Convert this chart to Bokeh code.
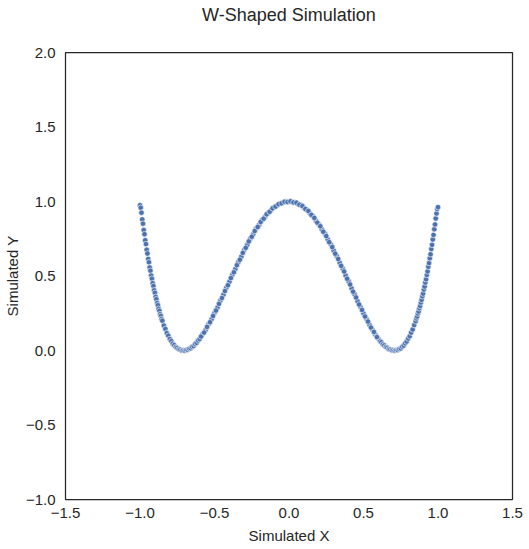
from bokeh.plotting import figure
from bokeh.models import FixedTicker, Range1d, Title
from bokeh.embed import file_html
from bokeh.resources import INLINE

x_vals = [
    -1.000, -0.995, -0.990, -0.985, -0.980, -0.975, -0.970, -0.965, -0.960, -0.955,
    -0.950, -0.945, -0.940, -0.935, -0.930, -0.925, -0.920, -0.915, -0.910, -0.905,
    -0.900, -0.895, -0.890, -0.885, -0.880, -0.875, -0.870, -0.865, -0.860, -0.855,
    -0.850, -0.84, -0.83, -0.82, -0.81, -0.80, -0.79, -0.78, -0.77, -0.76,
    -0.75, -0.74, -0.73, -0.72, -0.71, -0.70, -0.69, -0.68, -0.67, -0.66,
    -0.65, -0.64, -0.63, -0.62, -0.61, -0.60, -0.58, -0.56, -0.54, -0.52,
    -0.50, -0.48, -0.46, -0.44, -0.42, -0.40, -0.38, -0.36, -0.34, -0.32,
    -0.30, -0.28, -0.26, -0.24, -0.22, -0.20, -0.18, -0.16, -0.14, -0.12,
    -0.10, -0.08, -0.06, -0.04, -0.02, 0.00, 0.02, 0.04, 0.06, 0.08,
    0.10, 0.12, 0.14, 0.16, 0.18, 0.20, 0.22, 0.24, 0.26, 0.28,
    0.30, 0.32, 0.34, 0.36, 0.38, 0.40, 0.42, 0.44, 0.46, 0.48,
    0.50, 0.52, 0.54, 0.56, 0.58, 0.60, 0.61, 0.62, 0.63, 0.64,
    0.65, 0.66, 0.67, 0.68, 0.69, 0.70, 0.71, 0.72, 0.73, 0.74,
    0.75, 0.76, 0.77, 0.78, 0.79, 0.80, 0.81, 0.82, 0.83, 0.84,
    0.850, 0.855, 0.860, 0.865, 0.870, 0.875, 0.880, 0.885, 0.890, 0.895,
    0.900, 0.905, 0.910, 0.915, 0.920, 0.925, 0.930, 0.935, 0.940, 0.945,
    0.950, 0.955, 0.960, 0.965, 0.970, 0.975, 0.980, 0.985, 0.990, 0.995,
    1.000,
]

y_vals = [
    0.975, 0.958, 0.925, 0.880, 0.851, 0.808, 0.781, 0.740, 0.714, 0.676,
    0.651, 0.614, 0.592, 0.557, 0.535, 0.503, 0.482, 0.452, 0.433, 0.404,
    0.387, 0.360, 0.344, 0.318, 0.304, 0.280, 0.266, 0.244, 0.232, 0.211,
    0.200, 0.167, 0.145, 0.117, 0.099, 0.077, 0.063, 0.046, 0.036, 0.023,
    0.017, 0.008, 0.006, 0.000, 0.002, -0.001, 0.004, 0.005, 0.012, 0.015,
    0.025, 0.031, 0.044, 0.052, 0.067, 0.077, 0.109, 0.137, 0.176, 0.209,
    0.252, 0.289, 0.335, 0.374, 0.421, 0.461, 0.508, 0.547, 0.593, 0.630,
    0.675, 0.709, 0.750, 0.781, 0.818, 0.844, 0.877, 0.898, 0.925, 0.941,
    0.962, 0.973, 0.987, 0.992, 1.000, 0.998, 0.996, 0.995, 0.984, 0.976,
    0.958, 0.945, 0.921, 0.902, 0.873, 0.848, 0.814, 0.785, 0.746, 0.713,
    0.671, 0.634, 0.589, 0.550, 0.504, 0.464, 0.417, 0.377, 0.331, 0.292,
    0.248, 0.212, 0.172, 0.140, 0.105, 0.079, 0.064, 0.055, 0.041, 0.034,
    0.023, 0.018, 0.009, 0.007, 0.001, 0.002, -0.001, 0.003, 0.003, 0.010,
    0.014, 0.025, 0.033, 0.048, 0.060, 0.080, 0.096, 0.120, 0.141, 0.171,
    0.196, 0.215, 0.228, 0.248, 0.262, 0.284, 0.299, 0.322, 0.340, 0.364,
    0.382, 0.409, 0.429, 0.456, 0.478, 0.507, 0.531, 0.562, 0.587, 0.619,
    0.646, 0.681, 0.709, 0.745, 0.776, 0.814, 0.846, 0.886, 0.920, 0.950,
    0.962,
]

x_mid = [
    -0.59, -0.57, -0.55, -0.53, -0.51, -0.49, -0.47, -0.45, -0.43, -0.41,
    -0.39, -0.37, -0.35, -0.33, -0.31, -0.29, -0.27, -0.25, -0.23, -0.21,
    -0.19, -0.17, -0.15, -0.13, -0.11, -0.09, -0.07, -0.05, -0.03, -0.01,
    0.01, 0.03, 0.05, 0.07, 0.09, 0.11, 0.13, 0.15, 0.17, 0.19,
    0.21, 0.23, 0.25, 0.27, 0.29, 0.31, 0.33, 0.35, 0.37, 0.39,
    0.41, 0.43, 0.45, 0.47, 0.49, 0.51, 0.53, 0.55, 0.57, 0.59,
]

y_mid = [
    0.094, 0.120, 0.158, 0.190, 0.232, 0.268, 0.313, 0.352, 0.399, 0.438,
    0.486, 0.525, 0.572, 0.609, 0.655, 0.689, 0.732, 0.763, 0.802, 0.829,
    0.863, 0.885, 0.914, 0.931, 0.954, 0.966, 0.982, 0.988, 0.998, 0.997,
    1.001, 0.994, 0.992, 0.978, 0.969, 0.950, 0.936, 0.910, 0.890, 0.858,
    0.834, 0.797, 0.768, 0.727, 0.694, 0.650, 0.614, 0.568, 0.530, 0.482,
    0.443, 0.395, 0.356, 0.309, 0.272, 0.228, 0.194, 0.154, 0.125, 0.090,
]

x_ticks = [-1.5, -1.0, -0.5, 0.0, 0.5, 1.0, 1.5]
y_ticks = [-1.0, -0.5, 0.0, 0.5, 1.0, 1.5, 2.0]

TITLE = "W-Shaped Simulation"
FONT = "Liberation Sans"
TEXT = "#262626"

p = figure(
    frame_width=447, frame_height=447,
    x_range=Range1d(-1.5, 1.5), y_range=Range1d(-1.0, 2.0),
    output_backend="svg", toolbar_location=None,
    min_border_left=58, min_border_right=16, min_border_top=52, min_border_bottom=42,
)

p.scatter(x_vals + x_mid, y_vals + y_mid, size=5.5, fill_color="#4C72B0",
          line_color="white", line_width=0.6, marker="circle")

p.background_fill_color = "white"
p.border_fill_color = "white"
p.xgrid.visible = False
p.ygrid.visible = False
p.outline_line_color = TEXT
p.outline_line_width = 1.25
p.outline_line_alpha = 1.0

# spacer between the frame and the title (inner panel)
spacer = Title(text=" ", text_font_size="10px", standoff=11, text_color="white")
p.add_layout(spacer, "above")

main_title = Title(
    text=TITLE, align="center", vertical_align="top", standoff=4,
    text_font=FONT, text_font_size="18px", text_font_style="normal", text_color=TEXT,
)
p.add_layout(main_title, "above")

def fmt(v):
    s = f"{abs(v):.1f}"
    return ("\u2212" + s) if v < 0 else s

for ax, ticks, label in ((p.xaxis[0], x_ticks, "Simulated X"), (p.yaxis[0], y_ticks, "Simulated Y")):
    ax.ticker = FixedTicker(ticks=ticks)
    ax.major_label_overrides = {t: fmt(t) for t in ticks}
    ax.axis_label = label
    ax.axis_label_text_font = FONT
    ax.axis_label_text_font_size = "15px"
    ax.axis_label_text_font_style = "normal"
    ax.axis_label_text_color = TEXT
    ax.major_label_text_font = FONT
    ax.major_label_text_font_size = "15px"
    ax.major_label_text_color = TEXT
    ax.major_tick_line_color = None
    ax.minor_tick_line_color = None
    ax.major_tick_out = 0
    ax.major_tick_in = 0
    ax.minor_tick_out = 0
    ax.minor_tick_in = 0
    ax.axis_line_color = None

p.xaxis.major_label_standoff = 8
p.yaxis.major_label_standoff = 10
p.xaxis.axis_label_standoff = 6
p.yaxis.axis_label_standoff = 2

open("out.html", "w").write(file_html(p, INLINE))
